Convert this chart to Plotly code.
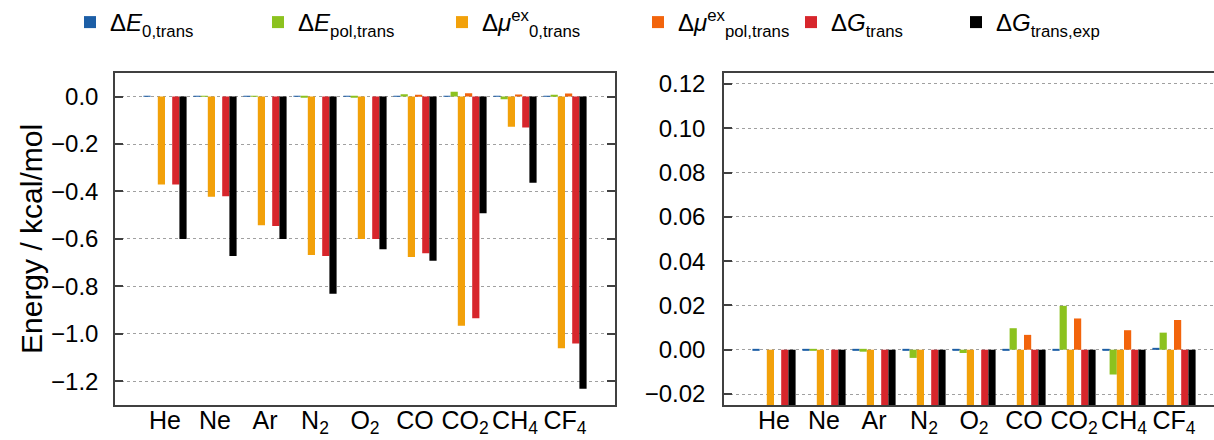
import plotly.graph_objects as go

# Gases (x categories)
gases = ["He", "Ne", "Ar", "N<sub>2</sub>", "O<sub>2</sub>", "CO",
         "CO<sub>2</sub>", "CH<sub>4</sub>", "CF<sub>4</sub>"]

# Transfer energy components, kcal/mol
dE0_trans = [-0.0002, -0.0003, -0.0002, -0.0003, -0.0002, -0.0003, -0.0002, -0.0003, 0.0004]
dEpol_trans = [0.0, -0.0003, -0.0009, -0.0037, -0.0015, 0.0097, 0.0198, -0.0112, 0.0077]
dmu0_trans = [-0.371, -0.422, -0.542, -0.668, -0.600, -0.676, -0.966, -0.127, -1.061]
dmupol_trans = [0.0, 0.0, 0.0, 0.0, 0.0, 0.0067, 0.0141, 0.0088, 0.0134]
dG_trans = [-0.370, -0.420, -0.545, -0.672, -0.600, -0.660, -0.934, -0.130, -1.040]
dG_trans_exp = [-0.600, -0.672, -0.600, -0.831, -0.643, -0.692, -0.492, -0.363, -1.231]

# y tick values of the full-scale panel and the zoomed panel
yticks_full = [0.0, -0.2, -0.4, -0.6, -0.8, -1.0, -1.2]
yticks_zoom = [0.12, 0.10, 0.08, 0.06, 0.04, 0.02, 0.00, -0.02]


def tick_text(vals, digits):
    # typographic minus sign for negative labels
    return [f"{v:.{digits}f}".replace("-", "\u2212") for v in vals]


series = [
    ("Δ<i>E</i><sub>0,trans</sub>", dE0_trans, "#1c5ea6"),
    ("Δ<i>E</i><sub>pol,trans</sub>", dEpol_trans, "#8cc21f"),
    ("Δ<i>μ</i><sup>ex</sup><sub>0,trans</sub>", dmu0_trans, "#f2a10a"),
    ("Δ<i>μ</i><sup>ex</sup><sub>pol,trans</sub>", dmupol_trans, "#f2640c"),
    ("Δ<i>G</i><sub>trans</sub>", dG_trans, "#d7262c"),
    ("Δ<i>G</i><sub>trans,exp</sub>", dG_trans_exp, "#000000"),
]

# left edge (px) of each legend entry along the top row
legend_x_px = [70, 258, 442, 638, 791, 956]

W, H = 1214, 440
fig = go.Figure()
legend_layout = {}
for i, (name, vals, col) in enumerate(series):
    lg = "legend" if i == 0 else f"legend{i + 1}"
    fig.add_trace(go.Bar(x=gases, y=vals, name=name, marker_color=col,
                         marker_line_width=0, xaxis="x", yaxis="y",
                         legend=lg, showlegend=True))
    fig.add_trace(go.Bar(x=gases, y=vals, name=name, marker_color=col,
                         marker_line_width=0, xaxis="x2", yaxis="y2",
                         showlegend=False))
    legend_layout[lg] = dict(x=legend_x_px[i] / W, y=1 - 22 / H,
                             xanchor="left", yanchor="middle",
                             orientation="h", bgcolor="rgba(0,0,0,0)",
                             font=dict(size=24, color="#000"),
                             itemwidth=30)

font = "Liberation Sans, Arial, sans-serif"
axis_line = dict(showline=True, linecolor="#404040", linewidth=1.5)
grid = dict(showgrid=True, gridcolor="#a0a0a0", griddash="dot", gridwidth=1)
ydom = [1 - 405 / H, 1 - 72 / H]
xtick = dict(ticks="", showgrid=False, tickangle=0, automargin=False,
             tickfont=dict(size=25), ticklabelstandoff=-8)

fig.update_layout(
    width=W, height=H,
    margin=dict(l=0, r=0, t=0, b=0),
    paper_bgcolor="white", plot_bgcolor="white",
    font=dict(family=font, size=24, color="#000"),
    barmode="group", bargap=0.136, bargroupgap=0,
    xaxis=dict(domain=[115 / W, 615 / W], range=[-1, 9], anchor="y",
               mirror=True, **xtick, **axis_line),
    yaxis=dict(domain=ydom, range=[-1.3, 0.1], anchor="x", automargin=False,
               tickmode="array", tickvals=yticks_full,
               ticktext=tick_text(yticks_full, 1),
               ticks="inside", ticklen=8, tickwidth=1.5, tickcolor="#404040",
               mirror="ticks", zeroline=False, ticklabelstandoff=10,
               tickfont=dict(size=24),
               title=dict(text="Energy / kcal/mol", font=dict(size=30), standoff=0),
               **axis_line, **grid),
    xaxis2=dict(domain=[724 / W, 1], range=[-1, 8.8], anchor="y2",
                mirror=True, **xtick, **axis_line),
    yaxis2=dict(domain=ydom, range=[-0.025, 0.125], anchor="x2", automargin=False,
                tickmode="array", tickvals=yticks_zoom,
                ticktext=tick_text(yticks_zoom, 2),
                ticks="inside", ticklen=8, tickwidth=1.5, tickcolor="#404040",
                mirror=False, zeroline=False, ticklabelstandoff=12,
                tickfont=dict(size=24),
                **axis_line, **grid),
    **legend_layout,
)

fig.write_html("out.html")
